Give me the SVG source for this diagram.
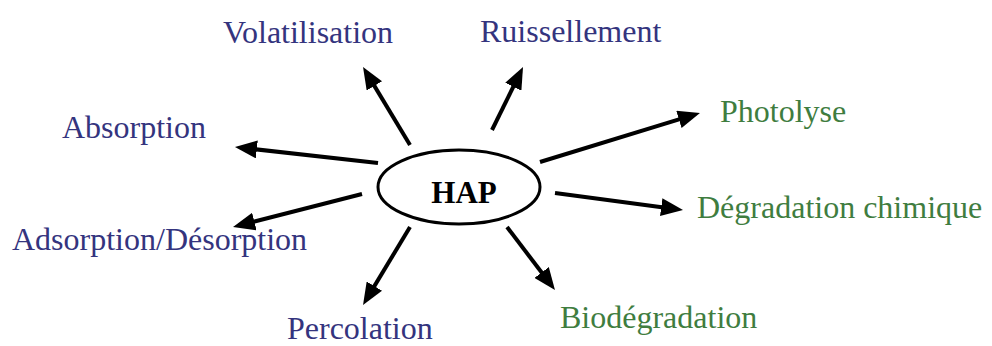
<svg xmlns="http://www.w3.org/2000/svg" width="992" height="346" viewBox="0 0 992 346">
<defs>
<style>
.lbl{font-family:"Liberation Serif","Times New Roman",serif;font-size:32px}
.blue{fill:#34347e}
.green{fill:#3f7d3f}
.arr{stroke:#000;stroke-width:4;fill:none;marker-end:url(#ah)}
</style>
<marker id="ah" viewBox="0 0 22 18" markerUnits="userSpaceOnUse" markerWidth="22" markerHeight="18" refX="12" refY="9" orient="auto">
<path d="M0,0 L22,9 L0,18 z" fill="#000"/>
</marker>
</defs>
<rect width="992" height="346" fill="#fff"/>
<g id="connectors">
<line class="arr" x1="410" y1="145" x2="368.2" y2="75.6"/>
<line class="arr" x1="378" y1="163" x2="244.9" y2="148.1"/>
<line class="arr" x1="492" y1="130" x2="518.6" y2="76"/>
<line class="arr" x1="540" y1="162" x2="690.4" y2="115.9"/>
<line class="arr" x1="362" y1="194" x2="242.7" y2="224.5"/>
<line class="arr" x1="410" y1="227" x2="368.2" y2="296.4"/>
<line class="arr" x1="555" y1="193" x2="673.1" y2="208.7"/>
<line class="arr" x1="507" y1="227" x2="548.9" y2="282"/>
</g>
<g id="hap">
<ellipse cx="459" cy="187" rx="81" ry="37" fill="#fff" stroke="#000" stroke-width="3"/>
<text x="464" y="203" text-anchor="middle" font-family="Liberation Serif, Times New Roman, serif" font-weight="bold" font-size="31">HAP</text>
</g>
<g id="volatilisation"><text class="lbl blue" x="223" y="43">Volatilisation</text></g>
<g id="ruissellement"><text class="lbl blue" x="480" y="42">Ruissellement</text></g>
<g id="absorption"><text class="lbl blue" x="62" y="138">Absorption</text></g>
<g id="photolyse"><text class="lbl green" x="720" y="122">Photolyse</text></g>
<g id="adsorption"><text class="lbl blue" x="12" y="250">Adsorption/Désorption</text></g>
<g id="degradation"><text class="lbl green" x="697" y="218">Dégradation chimique</text></g>
<g id="biodegradation"><text class="lbl green" x="560" y="328">Biodégradation</text></g>
<g id="percolation"><text class="lbl blue" x="287" y="339">Percolation</text></g>
</svg>
